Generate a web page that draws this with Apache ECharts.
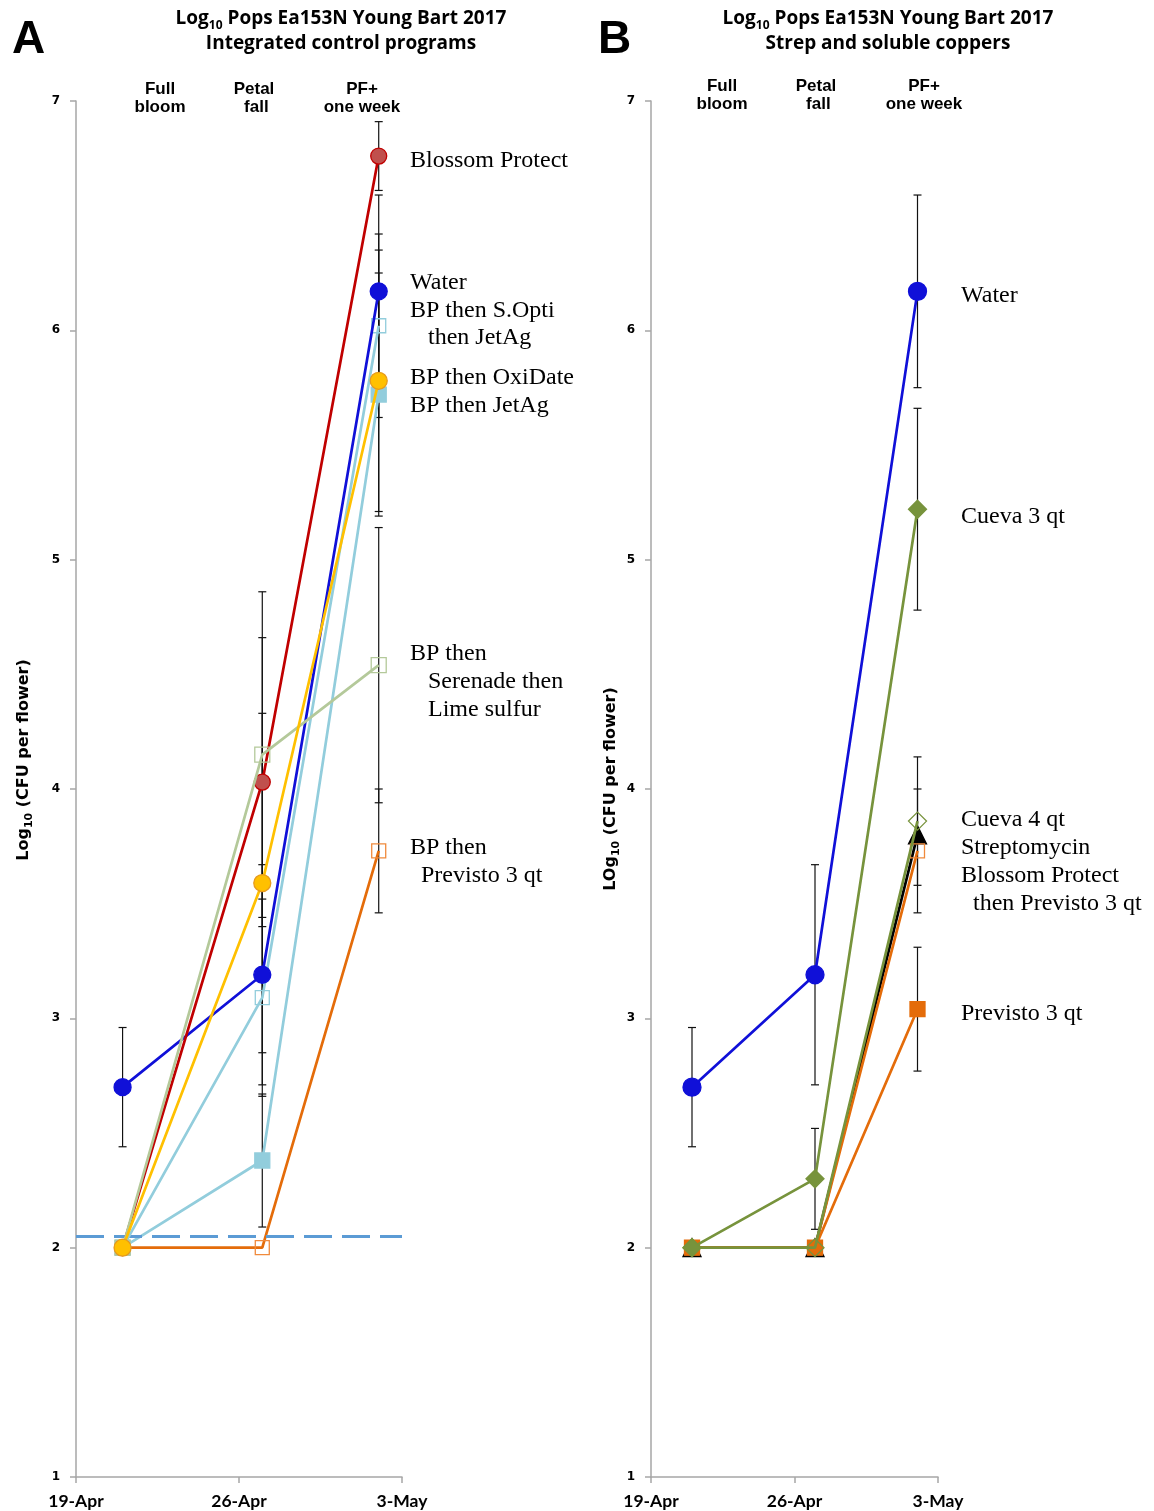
<!DOCTYPE html>
<html>
<head>
<meta charset="utf-8">
<script src="https://cdn.jsdelivr.net/npm/echarts@6/dist/echarts.min.js"></script>
<style>
html,body{margin:0;padding:0;background:#fff;}
#chart{width:1154px;height:1511px;}
</style>
</head>
<body>
<div id="chart"></div>
<script>
// ---------- data ----------
const xTickLabels = ['19-Apr', '26-Apr', '3-May'];
const sampleDays = [2, 8, 13];            // days after 19-Apr (21-Apr, 27-Apr, 2-May)
const stageLabels = ['Full\nbloom', 'Petal\n fall', 'PF+\none week'];

// Panel A: Integrated control programs
const aWater = [2.70, 3.19, 6.17];
const aWaterErr = [0.26, 0.48, 0.42];
const aBlossomProtect = [2.00, 4.03, 6.76];
const aBlossomProtectErr = [null, 0.63, 0.15];
const aSOpti = [2.00, 3.09, 6.02];
const aSOptiErr = [null, 0.43, 0.40];
const aOxiDate = [2.00, 3.59, 5.78];
const aOxiDateErr = [null, 0.74, 0.57];
const aJetAg = [2.00, 2.38, 5.72];
const aJetAgErr = [null, 0.29, 0.53];
const aSerenade = [2.00, 4.15, 4.54];
const aSerenadeErr = [null, 0.71, 0.60];
const aPrevisto = [2.00, 2.00, 3.73];
const aPrevistoErr = [null, null, 0.27];
const detectionLimit = 2.05;

// Panel B: Strep and soluble coppers
const bWater = [2.70, 3.19, 6.17];
const bWaterErr = [0.26, 0.48, 0.42];
const bCueva3 = [2.00, 2.30, 5.22];
const bCueva3Err = [null, 0.22, 0.44];
const bCueva4 = [2.00, 2.00, 3.86];
const bCueva4Err = [null, null, 0.28];
const bStrep = [2.00, 2.00, 3.80];
const bStrepErr = [null, null, null];
const bBPPrevisto = [2.00, 2.00, 3.73];
const bBPPrevistoErr = [null, null, 0.27];
const bPrevisto = [2.00, 2.00, 3.04];
const bPrevistoErr = [null, null, 0.27];

// ---------- helpers ----------
const CLEAR = 'rgba(255,255,255,0)';
const pts = vals => vals.map((v, i) => [sampleDays[i], v]);
const errs = (vals, e) => vals.map((v, i) => e[i] == null ? null : [sampleDays[i], v - e[i], v + e[i]]).filter(d => d);

function errSeries(idx, list) {
  let data = [];
  list.forEach(([v, e]) => { data = data.concat(errs(v, e)); });
  return {
    type: 'custom', xAxisIndex: idx, yAxisIndex: idx, z: 1, silent: true,
    data: data,
    renderItem: function (params, api) {
      const x = api.value(0);
      const top = api.coord([x, api.value(2)]);
      const bot = api.coord([x, api.value(1)]);
      const w = 4;
      const st = { stroke: '#111', lineWidth: 1.2 };
      return {
        type: 'group', children: [
          { type: 'line', shape: { x1: top[0], y1: top[1], x2: bot[0], y2: bot[1] }, style: st },
          { type: 'line', shape: { x1: top[0] - w, y1: top[1], x2: top[0] + w, y2: top[1] }, style: st },
          { type: 'line', shape: { x1: bot[0] - w, y1: bot[1], x2: bot[0] + w, y2: bot[1] }, style: st }
        ]
      };
    }
  };
}

function lineSeries(idx, name, vals, color, symbol, size, fill, border, z) {
  return {
    type: 'line', name: name, xAxisIndex: idx, yAxisIndex: idx, z: z || 3,
    data: pts(vals), symbol: symbol, symbolSize: size, showAllSymbol: true,
    lineStyle: { color: color, width: 2.7 },
    itemStyle: { color: fill, borderColor: border, borderWidth: 1.3, opacity: 1 },
    emphasis: { disabled: true }, animation: false
  };
}

function xAxisCfg(idx) {
  return {
    type: 'value', gridIndex: idx, min: 0, max: 14, interval: 7,
    axisLine: { show: true, lineStyle: { color: '#a6a6a6', width: 1.5 } },
    axisTick: { show: true, inside: false, length: 6, lineStyle: { color: '#a6a6a6', width: 1.5 } },
    splitLine: { show: false },
    axisLabel: {
      formatter: v => xTickLabels[Math.round(v / 7)],
      fontFamily: 'Lato', fontWeight: 'bold', fontSize: 17.5, color: '#000', margin: 15
    }
  };
}
const yNameRich = {
  b: { fontFamily: 'DejaVu Sans', fontWeight: 'bold', fontSize: 16, color: '#000', fill: '#000', lineHeight: 22, verticalAlign: 'middle' },
  s: { fontFamily: 'DejaVu Sans', fontWeight: 'bold', fontSize: 11, color: '#000', fill: '#000', lineHeight: 10, verticalAlign: 'bottom' }
};
function yAxisCfg(idx, name, gap) {
  return {
    type: 'value', gridIndex: idx, min: 1, max: 7, interval: 1,
    axisLine: { show: true, lineStyle: { color: '#a6a6a6', width: 1.5 } },
    axisTick: { show: true, inside: false, length: 6, lineStyle: { color: '#a6a6a6', width: 1.5 } },
    splitLine: { show: false },
    axisLabel: { fontFamily: 'DejaVu Sans', fontWeight: 'bold', fontSize: 12, color: '#000', margin: 16 },
    name: name,
    nameLocation: 'middle', nameRotate: 90, nameGap: gap,
    nameTextStyle: { rich: yNameRich }
  };
}

const titleRich = {
  a: { fontFamily: 'Open Sans', fontWeight: 'bold', fontSize: 19, fill: '#000', lineHeight: 26, verticalAlign: 'middle' },
  s: { fontFamily: 'Open Sans', fontWeight: 'bold', fontSize: 12, fill: '#000', lineHeight: 10, verticalAlign: 'bottom' }
};
function titleText(cx, sub) {
  return [
    { type: 'text', x: cx, y: 19, style: { text: '{a|Log}{s|10}{a| Pops Ea153N Young Bart 2017}', rich: titleRich, align: 'center', verticalAlign: 'middle' } },
    { type: 'text', x: cx, y: 44, style: { text: sub, font: 'bold 19px "Open Sans"', fill: '#000', align: 'center', verticalAlign: 'middle' } }
  ];
}
function stageTexts(xs, y) {
  return stageLabels.map((t, i) => ({
    type: 'text', x: xs[i], y: y,
    style: { text: t, font: 'bold 17px "Liberation Sans"', fill: '#000', align: 'center', verticalAlign: 'middle', lineHeight: 18 }
  }));
}
function note(x, y, t) {
  return { type: 'text', x: x, y: y, style: { text: t, font: '24px "Liberation Serif"', fill: '#000', align: 'left', verticalAlign: 'middle' } };
}

const graphics = []
  .concat([
    { type: 'text', x: 12, y: 40, style: { text: 'A', font: 'bold 46px "Liberation Sans"', fill: '#000', verticalAlign: 'middle' } },
    { type: 'text', x: 598, y: 40, style: { text: 'B', font: 'bold 46px "Liberation Sans"', fill: '#000', verticalAlign: 'middle' } },
    { type: 'text', x: 24, y: 760, rotation: Math.PI / 2,
      style: { text: '{b|Log}{s|10}{b| (CFU per flower)}', rich: yNameRich, align: 'center', verticalAlign: 'middle' } }
  ])
  .concat(titleText(341, 'Integrated control programs'))
  .concat(titleText(888, 'Strep and soluble coppers'))
  .concat(stageTexts([160, 254, 362], 98))
  .concat(stageTexts([722, 816, 924], 95))
  .concat([
    note(410, 161, 'Blossom Protect'),
    note(410, 283, 'Water'),
    note(410, 311, 'BP then S.Opti'),
    note(428, 338, 'then JetAg'),
    note(410, 378, 'BP then OxiDate'),
    note(410, 406, 'BP then JetAg'),
    note(410, 654, 'BP then'),
    note(428, 682, 'Serenade then'),
    note(428, 710, 'Lime sulfur'),
    note(410, 848, 'BP then'),
    note(421, 876, 'Previsto 3 qt'),
    note(961, 296, 'Water'),
    note(961, 517, 'Cueva 3 qt'),
    note(961, 820, 'Cueva 4 qt'),
    note(961, 848, 'Streptomycin'),
    note(961, 876, 'Blossom Protect'),
    note(973, 904, 'then Previsto 3 qt'),
    note(961, 1014, 'Previsto 3 qt')
  ]);

const chart = echarts.init(document.getElementById('chart'), null, { renderer: 'canvas' });
chart.setOption({
  backgroundColor: '#fff',
  animation: false,
  grid: [
    { left: 76, right: 752, top: 101, bottom: 34 },
    { left: 651, right: 216, top: 101, bottom: 34 }
  ],
  xAxis: [xAxisCfg(0), xAxisCfg(1)],
  yAxis: [yAxisCfg(0, '', 42), yAxisCfg(1, '{b|LOg}{s|10}{b| (CFU per flower)}', 29)],
  graphic: graphics,
  series: [
    errSeries(0, [[aWater, aWaterErr], [aBlossomProtect, aBlossomProtectErr], [aSOpti, aSOptiErr], [aOxiDate, aOxiDateErr],
                  [aJetAg, aJetAgErr], [aSerenade, aSerenadeErr], [aPrevisto, aPrevistoErr]]),
    Object.assign(lineSeries(0, 'BP then Previsto 3 qt', aPrevisto, '#e46c0a', 'rect', 14, CLEAR, '#f08a3c', 3), {
      markLine: {
        silent: true, symbol: 'none', animation: false,
        label: { show: false },
        lineStyle: { color: '#5b9bd5', width: 3, type: [28, 10] },
        data: [{ yAxis: detectionLimit }]
      }
    }),
    lineSeries(0, 'BP then JetAg', aJetAg, '#92cddc', 'rect', 15, '#92cddc', '#92cddc', 4),
    lineSeries(0, 'BP then S.Opti then JetAg', aSOpti, '#92cddc', 'rect', 14, CLEAR, '#92cddc', 5),
    lineSeries(0, 'Water', aWater, '#1010d8', 'circle', 17, '#1010d8', '#1010d8', 6),
    lineSeries(0, 'Blossom Protect', aBlossomProtect, '#c00000', 'circle', 16, '#c0504d', '#c00000', 7),
    lineSeries(0, 'BP then Serenade then Lime sulfur', aSerenade, '#b4c99a', 'rect', 15, CLEAR, '#b4c99a', 8),
    lineSeries(0, 'BP then OxiDate', aOxiDate, '#ffc000', 'circle', 17, '#ffc000', '#e69a1e', 9),

    errSeries(1, [[bWater, bWaterErr], [bCueva3, bCueva3Err], [bCueva4, bCueva4Err], [bStrep, bStrepErr],
                  [bBPPrevisto, bBPPrevistoErr], [bPrevisto, bPrevistoErr]]),
    lineSeries(1, 'Streptomycin', bStrep, '#000', 'triangle', 18, '#000', '#000', 3),
    lineSeries(1, 'Blossom Protect then Previsto 3 qt', bBPPrevisto, '#e46c0a', 'rect', 14, CLEAR, '#f08a3c', 4),
    lineSeries(1, 'Previsto 3 qt', bPrevisto, '#e46c0a', 'rect', 15, '#e46c0a', '#e46c0a', 5),
    lineSeries(1, 'Cueva 4 qt', bCueva4, '#77933c', 'diamond', 18, CLEAR, '#77933c', 6),
    lineSeries(1, 'Cueva 3 qt', bCueva3, '#77933c', 'diamond', 18, '#77933c', '#77933c', 7),
    lineSeries(1, 'Water', bWater, '#1010d8', 'circle', 18, '#1010d8', '#1010d8', 8)
  ]
});
</script>
</body>
</html>
